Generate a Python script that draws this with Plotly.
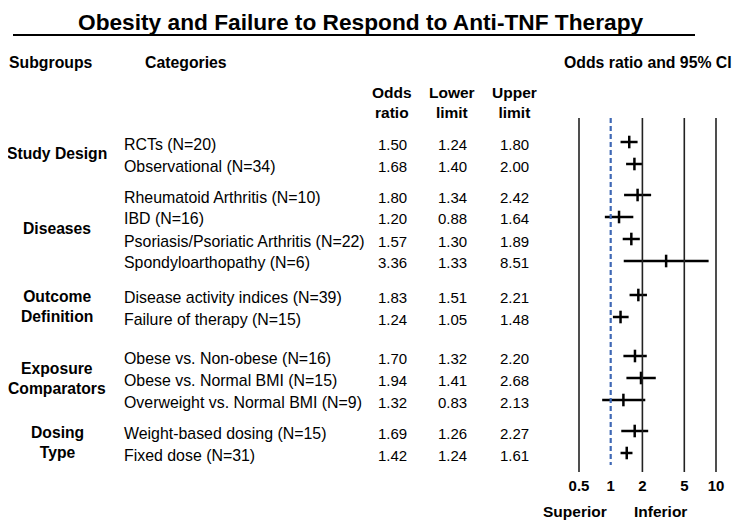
import math
import plotly.graph_objects as go

# ---------------- data ----------------
title = "Obesity and Failure to Respond to Anti-TNF Therapy"
subgroups = ["Study Design", "Diseases", "Outcome<br>Definition",
             "Exposure<br>Comparators", "Dosing<br>Type"]
categories = ["RCTs (N=20)", "Observational (N=34)",
              "Rheumatoid Arthritis (N=10)", "IBD (N=16)",
              "Psoriasis/Psoriatic Arthritis (N=22)", "Spondyloarthopathy (N=6)",
              "Disease activity indices (N=39)", "Failure of therapy (N=15)",
              "Obese vs. Non-obese (N=16)", "Obese vs. Normal BMI (N=15)",
              "Overweight vs. Normal BMI (N=9)",
              "Weight-based dosing (N=15)", "Fixed dose (N=31)"]
group_of = [0, 0, 1, 1, 1, 1, 2, 2, 3, 3, 3, 4, 4]
odds = [1.50, 1.68, 1.80, 1.20, 1.57, 3.36, 1.83, 1.24, 1.70, 1.94, 1.32, 1.69, 1.42]
lower = [1.24, 1.40, 1.34, 0.88, 1.30, 1.33, 1.51, 1.05, 1.32, 1.41, 0.83, 1.26, 1.24]
upper = [1.80, 2.00, 2.42, 1.64, 1.89, 8.51, 2.21, 1.48, 2.20, 2.68, 2.13, 2.27, 1.61]
tick_vals = [0.5, 1, 2, 5, 10]
tick_text = ["0.5", "1", "2", "5", "10"]
ref_lines = [0.5, 2, 5, 10]
null_value = 1

# ---------------- layout helpers ----------------
PAGE_W, PAGE_H = 740, 521
OFF = 8                       # default body margin of the html page
W, H = PAGE_W - OFF, PAGE_H - OFF
FONT = "Liberation Sans, Arial, sans-serif"

def px(x):
    return (x - OFF) / W

def py(y):
    return 1 - (y - OFF) / H

# row positions (page pixels from top)
row_step = 22
group_step = [31, 34, 39, 31]
ys = []
y = 142
for i, g in enumerate(group_of):
    if i > 0:
        y += row_step if g == group_of[i - 1] else group_step[g - 1]
    ys.append(y)

# x axis: log, pixel mapping (page pixels)
plot_left, plot_bottom = 560, 475
x_at_05, x_at_10 = 579, 716
k = (x_at_10 - x_at_05) / (math.log10(10) - math.log10(0.5))
xr0 = math.log10(0.5) - (x_at_05 - plot_left) / k
xr1 = math.log10(10) + (PAGE_W - x_at_10) / k

fig = go.Figure()

fig.add_trace(go.Scatter(
    x=odds, y=ys, mode="markers",
    marker=dict(symbol="line-ns", size=9, color="black",
                line=dict(color="black", width=2.5)),
    error_x=dict(type="data", symmetric=False,
                 array=[u - o for u, o in zip(upper, odds)],
                 arrayminus=[o - l for o, l in zip(odds, lower)],
                 color="black", thickness=2.5, width=0),
    showlegend=False, hoverinfo="skip",
))

shapes = []
line_top, line_bot = 118, 472
for v in ref_lines:
    shapes.append(dict(type="line", xref="x", yref="y", x0=v, x1=v,
                       y0=line_top, y1=line_bot,
                       line=dict(color="#222222", width=1.6)))
shapes.append(dict(type="line", xref="x", yref="y", x0=null_value, x1=null_value,
                   y0=line_top, y1=465,
                   line=dict(color="#3f68b5", width=2.2, dash="5px,3px")))
# title underline
shapes.append(dict(type="line", xref="paper", yref="paper",
                   x0=px(13), x1=px(695), y0=py(35), y1=py(35),
                   line=dict(color="black", width=2)))

ann = []

def text(x, y, s, size=15, bold=False, xanchor="left"):
    ann.append(dict(x=px(x), y=py(y), xref="paper", yref="paper",
                    text=("<b>%s</b>" % s) if bold else s, showarrow=False,
                    xanchor=xanchor, yanchor="middle",
                    font=dict(family=FONT, size=size, color="black")))

ann.append(dict(x=px(360), y=1, xref="paper", yref="paper",
                text="<b>%s</b>" % title, showarrow=False,
                xanchor="center", yanchor="top", borderpad=0,
                font=dict(family=FONT, size=22.7, color="black")))
text(7, 63, "Subgroups", size=15.8, bold=True)
text(143, 63, "Categories", size=15.8, bold=True)
text(734, 63, "Odds ratio and 95% CI", size=15.8, bold=True, xanchor="right")

col_x = [392, 452, 514]
for cx, h in zip(col_x, ["Odds<br>ratio", "Lower<br>limit", "Upper<br>limit"]):
    ann.append(dict(x=px(cx), y=py(102), xref="paper", yref="paper",
                    text="<b>%s</b>" % h, showarrow=False,
                    xanchor="center", yanchor="middle", align="center",
                    font=dict(family=FONT, size=15.5, color="black")))

for i, c in enumerate(categories):
    text(122, ys[i] + 2, c, size=15.9)
    for cx, v in zip(col_x, [odds[i], lower[i], upper[i]]):
        text(cx, ys[i] + 2, "%.2f" % v, size=15, xanchor="center")

for g, s in enumerate(subgroups):
    gy = [ys[i] for i in range(len(ys)) if group_of[i] == g]
    cy = sum(gy) / len(gy)
    ann.append(dict(x=px(57), y=py(cy), xref="paper", yref="paper",
                    text="<b>%s</b>" % s, showarrow=False,
                    xanchor="center", yanchor="middle", align="center",
                    font=dict(family=FONT, size=15.7, color="black")))

text(609, 511, "Superior", size=15.5, bold=True, xanchor="right")
text(660, 511, "Inferior", size=15.5, bold=True, xanchor="center")

fig.update_layout(
    width=W, height=H,
    margin=dict(l=0, r=0, t=0, b=0),
    paper_bgcolor="white", plot_bgcolor="white",
    shapes=shapes, annotations=ann,
    xaxis=dict(type="log", domain=[px(plot_left), 1], range=[xr0, xr1],
               tickvals=tick_vals, ticktext=["<b>%s</b>" % t for t in tick_text],
               tickfont=dict(family=FONT, size=15, color="black"),
               showgrid=False, zeroline=False, showline=False, ticks=""),
    yaxis=dict(domain=[py(plot_bottom), 1], range=[plot_bottom, OFF],
               showgrid=False, zeroline=False, showline=False,
               showticklabels=False, ticks=""),
)

fig.write_html("out.html")
